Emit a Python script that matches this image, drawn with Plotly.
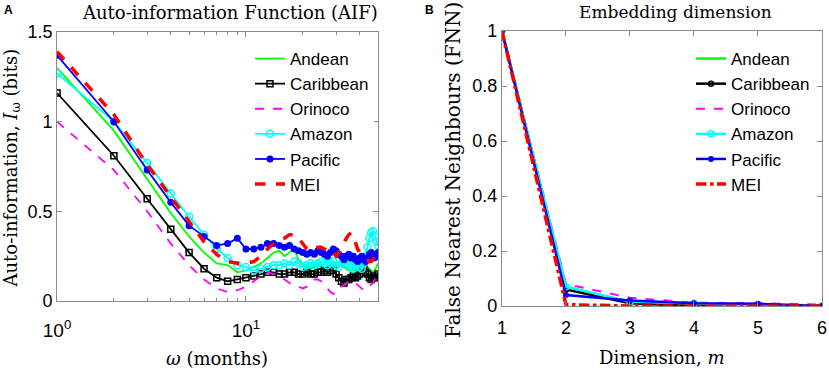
import plotly.graph_objects as go

months = list(range(1, 51))

andean = [1.30, 0.95, 0.68, 0.49, 0.36, 0.27, 0.21, 0.20, 0.16, 0.17,
          0.19, 0.21, 0.24, 0.27, 0.28, 0.25, 0.27, 0.29, 0.23, 0.20,
          0.19, 0.18, 0.19, 0.20, 0.19, 0.18, 0.19, 0.20, 0.19, 0.18,
          0.19, 0.20, 0.19, 0.18, 0.17, 0.17, 0.18, 0.17, 0.16, 0.17,
          0.18, 0.17, 0.18, 0.19, 0.18, 0.17, 0.16, 0.17, 0.19, 0.21]
caribbean = [1.16, 0.81, 0.57, 0.40, 0.27, 0.18, 0.13, 0.11, 0.12, 0.13,
             0.14, 0.15, 0.16, 0.16, 0.15, 0.15, 0.16, 0.16, 0.15, 0.15,
             0.16, 0.15, 0.15, 0.16, 0.16, 0.17, 0.16, 0.17, 0.17, 0.15,
             0.13, 0.11, 0.10, 0.12, 0.12, 0.13, 0.14, 0.13, 0.14, 0.15,
             0.17, 0.18, 0.16, 0.15, 0.13, 0.12, 0.13, 0.14, 0.13, 0.15]
orinoco = [1.00, 0.73, 0.50, 0.32, 0.20, 0.12, 0.07, 0.05, 0.06, 0.08,
           0.11, 0.14, 0.16, 0.15, 0.14, 0.12, 0.10, 0.09, 0.08, 0.07,
           0.08, 0.10, 0.12, 0.12, 0.11, 0.09, 0.07, 0.05, 0.04, 0.05,
           0.07, 0.08, 0.09, 0.10, 0.11, 0.11, 0.11, 0.10, 0.09, 0.08,
           0.07, 0.06, 0.07, 0.08, 0.09, 0.09, 0.10, 0.12, 0.14, 0.16]
amazon = [1.27, 1.00, 0.77, 0.60, 0.47, 0.37, 0.29, 0.24, 0.20, 0.19,
          0.17, 0.18, 0.19, 0.20, 0.20, 0.21, 0.20, 0.22, 0.21, 0.19,
          0.20, 0.21, 0.20, 0.21, 0.22, 0.21, 0.20, 0.21, 0.22, 0.20,
          0.19, 0.21, 0.22, 0.21, 0.20, 0.19, 0.18, 0.20, 0.21, 0.19,
          0.18, 0.21, 0.25, 0.30, 0.35, 0.38, 0.39, 0.36, 0.33, 0.31]
pacific = [1.37, 1.00, 0.73, 0.55, 0.42, 0.36, 0.31, 0.32, 0.35, 0.29,
           0.29, 0.30, 0.32, 0.32, 0.31, 0.30, 0.31, 0.29, 0.28, 0.27,
           0.26, 0.27, 0.26, 0.28, 0.27, 0.26, 0.25, 0.27, 0.29, 0.28,
           0.26, 0.25, 0.23, 0.25, 0.26, 0.24, 0.25, 0.23, 0.22, 0.24,
           0.25, 0.23, 0.22, 0.24, 0.26, 0.27, 0.25, 0.24, 0.26, 0.27]
mei = [1.39, 1.04, 0.76, 0.58, 0.44, 0.33, 0.26, 0.22, 0.21, 0.21,
       0.22, 0.25, 0.29, 0.32, 0.34, 0.35, 0.37, 0.37, 0.35, 0.32,
       0.29, 0.28, 0.29, 0.30, 0.30, 0.29, 0.28, 0.29, 0.27, 0.25,
       0.27, 0.30, 0.33, 0.35, 0.37, 0.38, 0.36, 0.32, 0.29, 0.27,
       0.26, 0.25, 0.24, 0.23, 0.22, 0.22, 0.23, 0.25, 0.27, 0.27]

dims = [1, 2, 3, 4, 5, 6]
fnn_andean = [1.0, 0.07, 0.015, 0.008, 0.005, 0.003]
fnn_caribbean = [1.0, 0.06, 0.01, 0.0, 0.0, 0.0]
fnn_orinoco = [1.0, 0.08, 0.03, 0.012, 0.01, 0.005]
fnn_amazon = [1.0, 0.07, 0.015, 0.01, 0.0, 0.0]
fnn_pacific = [1.0, 0.04, 0.02, 0.01, 0.008, 0.0]
fnn_mei = [1.0, 0.005, 0.0, 0.0, 0.0, 0.0]

names = ["Andean", "Caribbean", "Orinoco", "Amazon", "Pacific", "MEI"]
colors = ["#00ff00", "#000000", "#ff00ff", "#00ffff", "#0000ff", "#ff0000"]

aif = [andean, caribbean, orinoco, amazon, pacific, mei]
fnn = [fnn_andean, fnn_caribbean, fnn_orinoco, fnn_amazon, fnn_pacific, fnn_mei]

styleA = [
    dict(mode="lines", line=dict(width=1.8), marker=None),
    dict(mode="lines+markers", line=dict(width=1.8), marker=dict(symbol="square-open", size=6, line=dict(width=1.5))),
    dict(mode="lines", line=dict(width=1.8, dash="dash"), marker=None),
    dict(mode="lines+markers", line=dict(width=1.8), marker=dict(symbol="circle-open", size=7, line=dict(width=1.5))),
    dict(mode="lines+markers", line=dict(width=1.8), marker=dict(symbol="circle", size=7)),
    dict(mode="lines", line=dict(width=3.5, dash="dash"), marker=None),
]
styleB = [
    dict(mode="lines", line=dict(width=2.5), marker=None),
    dict(mode="lines+markers", line=dict(width=2.5), marker=dict(symbol="circle-open", size=5, line=dict(width=1.5))),
    dict(mode="lines", line=dict(width=2, dash="dash"), marker=None),
    dict(mode="lines+markers", line=dict(width=2.5), marker=dict(symbol="circle-open", size=6, line=dict(width=1.5))),
    dict(mode="lines+markers", line=dict(width=2.5), marker=dict(symbol="circle", size=6)),
    dict(mode="lines", line=dict(width=3.5, dash="dashdot"), marker=None),
]

fig = go.Figure()
for name, col, ys, st in zip(names, colors, aif, styleA):
    line = dict(st["line"]); line["color"] = col
    kw = dict(x=months, y=ys, name=name, mode=st["mode"], line=line,
              xaxis="x", yaxis="y", legend="legend")
    if st["marker"]:
        m = dict(st["marker"]); m["color"] = col
        kw["marker"] = m
    fig.add_trace(go.Scatter(**kw))
for name, col, ys, st in zip(names, colors, fnn, styleB):
    line = dict(st["line"]); line["color"] = col
    kw = dict(x=dims, y=ys, name=name, mode=st["mode"], line=line,
              xaxis="x2", yaxis="y2", legend="legend2")
    if st["marker"]:
        m = dict(st["marker"]); m["color"] = col
        kw["marker"] = m
    fig.add_trace(go.Scatter(**kw))

tickfont = dict(family="Liberation Sans, Arial", size=18, color="black")
axcommon = dict(showline=True, mirror="ticks", linecolor="#8a8a8a", linewidth=1,
                ticks="inside", ticklen=5, tickcolor="#8a8a8a", showgrid=False,
                zeroline=False, tickfont=tickfont, automargin=False)

fig.update_layout(
    width=829, height=371,
    margin=dict(l=0, r=0, t=0, b=0, autoexpand=False),
    plot_bgcolor="white", paper_bgcolor="white",
    xaxis=dict(domain=[0.0688, 0.456], type="log", range=[0, 1.69897],
               tickvals=[1, 10], ticktext=["10<sup>0</sup>", "10<sup>1</sup>"],
               minor=dict(ticks="inside", ticklen=3, tickcolor="#8a8a8a",
                          tickmode="array",
                          tickvals=[2, 3, 4, 5, 6, 7, 8, 9, 20, 30, 40]),
               ticklabelstandoff=12,
               anchor="y", **{**axcommon, "tickfont": dict(family="Liberation Sans, Arial", size=19, color="black")}),
    yaxis=dict(domain=[0.1887, 0.9137], range=[0, 1.5],
               tickvals=[0, 0.5, 1, 1.5], ticktext=["0", "0.5", "1", "1.5"],
               anchor="x", **axcommon),
    xaxis2=dict(domain=[0.6055, 0.9915], range=[1, 6],
                tickvals=dims, ticktext=[str(d) for d in dims],
                ticklabelstandoff=5,
                anchor="y2", **axcommon),
    yaxis2=dict(domain=[0.1752, 0.9164], range=[0, 1],
                tickvals=[0, 0.2, 0.4, 0.6, 0.8, 1],
                ticktext=["0", "0.2", "0.4", "0.6", "0.8", "1"],
                anchor="x2", **axcommon),
    legend=dict(x=250 / 829, y=1 - 41 / 371, xanchor="left", yanchor="top",
                font=dict(family="Liberation Sans, Arial", size=17, color="black"),
                bgcolor="white", itemwidth=30, tracegroupgap=0),
    legend2=dict(x=691 / 829, y=1 - 41 / 371, xanchor="left", yanchor="top",
                 font=dict(family="Liberation Sans, Arial", size=17, color="black"),
                 bgcolor="white", itemwidth=30, tracegroupgap=0),
    showlegend=True,
)

serif = "DejaVu Serif, serif"
ann = [
    dict(text="<b>A</b>", x=2 / 829, y=1 - 10 / 371, xanchor="left", yanchor="middle",
         font=dict(family="Liberation Sans, Arial", size=12, color="black")),
    dict(text="<b>B</b>", x=423 / 829, y=1 - 10 / 371, xanchor="left", yanchor="middle",
         font=dict(family="Liberation Sans, Arial", size=12, color="black")),
    dict(text="Auto-information Function (AIF)", x=230 / 829, y=1 - 12 / 371,
         xanchor="center", yanchor="middle", font=dict(family=serif, size=18, color="black")),
    dict(text="Embedding dimension", x=675 / 829, y=1 - 12 / 371,
         xanchor="center", yanchor="middle", font=dict(family=serif, size=17, color="black")),
    dict(text="Auto-information, <i>I</i><sub>ω</sub> (bits)", x=11.5 / 829, y=1 - 168 / 371,
         xanchor="center", yanchor="middle", textangle=-90,
         font=dict(family=serif, size=18, color="black")),
    dict(text="<i>ω</i> (months)", x=217 / 829, y=1 - 358 / 371,
         xanchor="center", yanchor="middle", font=dict(family=serif, size=18, color="black")),
    dict(text="False Nearest Neighbours (FNN)", x=453 / 829, y=1 - 170 / 371,
         xanchor="center", yanchor="middle", textangle=-90,
         font=dict(family=serif, size=20, color="black")),
    dict(text="Dimension, <i>m</i>", x=661 / 829, y=1 - 357 / 371,
         xanchor="center", yanchor="middle", font=dict(family=serif, size=18, color="black")),
]
for a in ann:
    a.update(xref="paper", yref="paper", showarrow=False)
fig.update_layout(annotations=ann)

fig.write_html("out.html", config={"displayModeBar": False},
               post_script="document.body.style.margin='0px';")
